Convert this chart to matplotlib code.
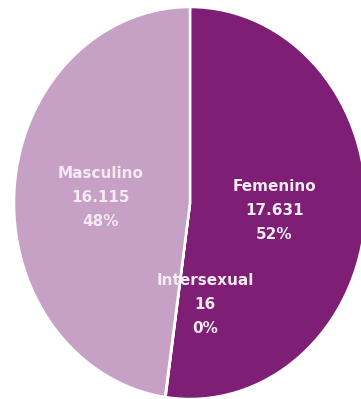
import matplotlib
matplotlib.use("Agg")
import matplotlib.pyplot as plt

categories = ["Femenino", "Intersexual", "Masculino"]
values = [17631, 16, 16115]
value_labels = ["17.631", "16", "16.115"]
pct_labels = ["52%", "0%", "48%"]
colors = ["#7E1E74", "#7E1E74", "#C7A0C5"]

W, H = 361, 399
fig = plt.figure(figsize=(W / 100, H / 100), dpi=100)
ax = fig.add_axes([14 / W, 0, 352 / W, 392 / H])
wedges, _ = ax.pie(values, colors=colors, startangle=90, counterclock=False,
                   wedgeprops=dict(edgecolor="white", linewidth=1.8))
ax.set_aspect("auto")
ax.set_xlim(-1, 1)
ax.set_ylim(-1, 1)

label_pos = {"Femenino": (0.48, -0.04), "Intersexual": (0.085, -0.52), "Masculino": (-0.51, 0.03)}
for cat, v, p in zip(categories, value_labels, pct_labels):
    x, y = label_pos[cat]
    ax.text(x, y, f"{cat}\n{v}\n{p}", ha="center", va="center", color="#F3EAF2",
            fontsize=11, fontweight="bold", linespacing=1.75,
            family=["Liberation Sans Narrow", "DejaVu Sans"])

fig.savefig("out.png", dpi=100, facecolor="white")
